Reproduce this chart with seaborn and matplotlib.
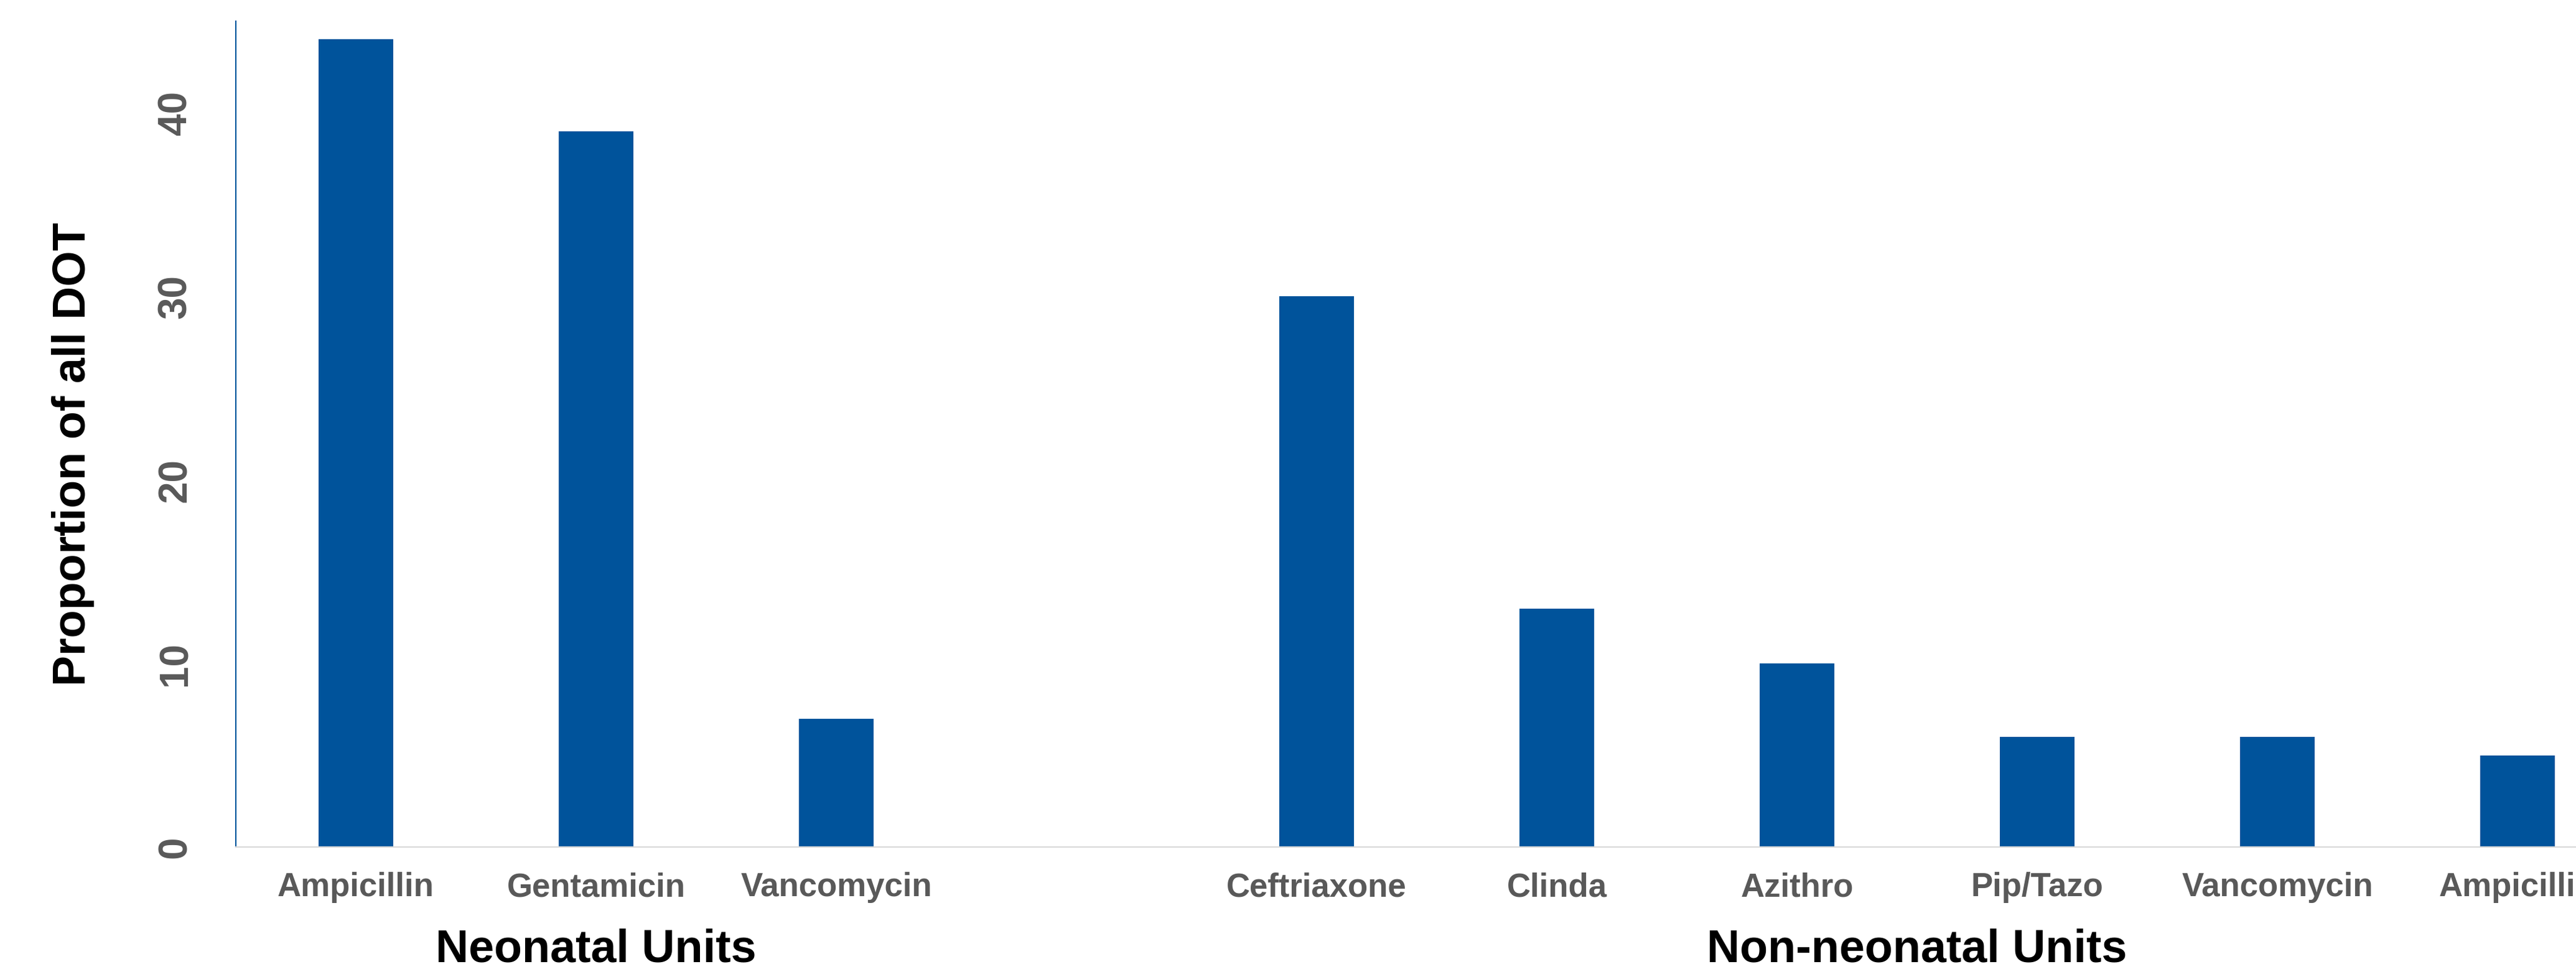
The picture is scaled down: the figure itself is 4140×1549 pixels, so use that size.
import matplotlib
matplotlib.use("Agg")
import matplotlib.pyplot as plt
import matplotlib.transforms as mtransforms
import seaborn as sns
import pandas as pd

# values
neonatal_drugs = ["Ampicillin", "Gentamicin", "Vancomycin"]
neonatal_values = [44, 39, 7]
non_neonatal_drugs = ["Ceftriaxone", "Clinda", "Azithro", "Pip/Tazo", "Vancomycin", "Ampicillin"]
non_neonatal_values = [30, 13, 10, 6, 6, 5]
group_names = ["Neonatal Units", "Non-neonatal Units"]
y_ticks = [0, 10, 20, 30, 40]

bar_color = "#00539B"
label_gray = "#595959"

sns.set_style("white")
plt.rcParams["font.family"] = ["Liberation Sans", "DejaVu Sans"]
plt.rcParams["font.weight"] = "bold"

# one unique key per bar, with an empty slot between the two groups
keys = [f"neo|{d}" for d in neonatal_drugs] + [f"non|{d}" for d in non_neonatal_drugs]
df = pd.DataFrame({
    "key": keys,
    "drug": neonatal_drugs + non_neonatal_drugs,
    "value": neonatal_values + non_neonatal_values,
})
order = keys[:len(neonatal_drugs)] + ["gap"] + keys[len(neonatal_drugs):]
tick_labels = neonatal_drugs + [""] + non_neonatal_drugs

fig = plt.figure(figsize=(41.40, 15.49), dpi=100)
ax = fig.add_axes([379 / 4140, 188 / 1549, (4140 - 379) / 4140, 1327 / 1549])

sns.barplot(data=df, x="key", y="value", order=order, color=bar_color,
            saturation=1, width=0.313, ax=ax, linewidth=0)

ax.set_xlim(-0.5, -0.5 + (4140 - 379) / 386)
ax.set_ylim(0, 45)
ax.set_yticks(y_ticks)
ax.set_xticks(range(len(order)))
ax.set_xticklabels(tick_labels)
ax.set_xlabel("")
ax.set_ylabel("")

for s in ["top", "right"]:
    ax.spines[s].set_visible(False)
ax.spines["left"].set_color(bar_color)
ax.spines["left"].set_linewidth(1.5)
ax.spines["bottom"].set_color("#d9d9d9")
ax.spines["bottom"].set_linewidth(1.6)

ax.tick_params(axis="x", length=0, pad=29, labelsize=38, labelcolor=label_gray)
ax.tick_params(axis="y", length=0, pad=48, labelsize=46, labelcolor=label_gray)
for lab in ax.get_yticklabels():
    lab.set_rotation(90)
    lab.set_va("center")
    lab.set_fontweight("bold")
for lab in ax.get_xticklabels():
    lab.set_fontweight("bold")

fig.text(118 / 4140, 1 - 730 / 1549, "Proportion of all DOT", rotation=90,
         ha="center", va="center", fontsize=53, fontweight="bold", color="black")

# group captions under the tick labels
trans = mtransforms.blended_transform_factory(ax.transData, ax.transAxes)
n_neo = len(neonatal_drugs)
neo_center = (n_neo - 1) / 2
non_center = n_neo + 1 + (len(non_neonatal_drugs) - 1) / 2
for name, xc in zip(group_names, [neo_center, non_center]):
    ax.text(xc, -0.1387, name, transform=trans, ha="center", va="baseline",
            fontsize=53, fontweight="bold", color="black", clip_on=False)

fig.savefig("out.png", dpi=100)
